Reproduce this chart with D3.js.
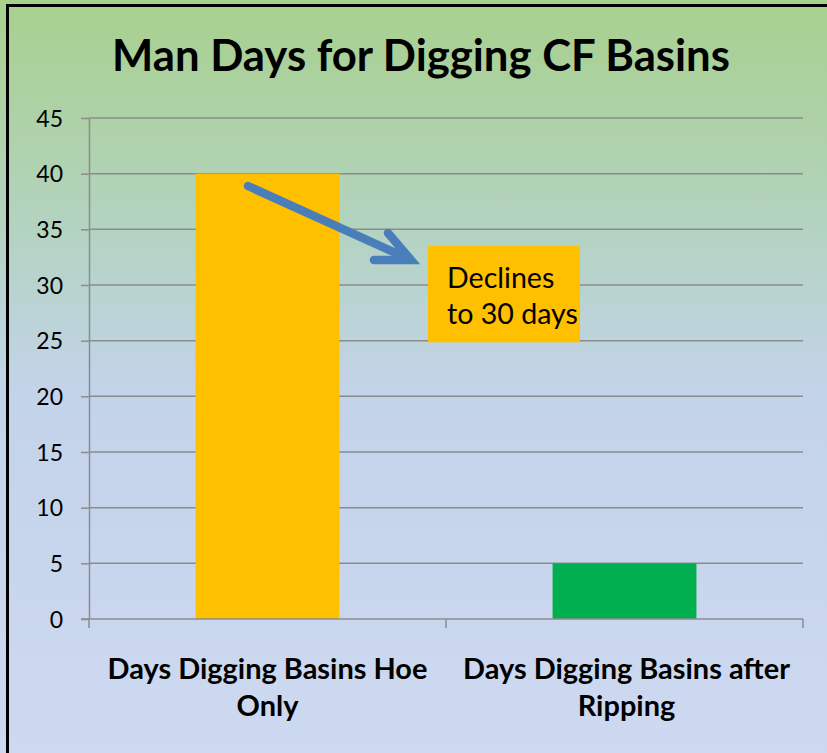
<!DOCTYPE html>
<html>
<head>
<meta charset="utf-8">
<script src="https://cdn.jsdelivr.net/npm/d3@7"></script>
<style>
  html, body { margin: 0; padding: 0; background: #fff; }
  svg { display: block; }
</style>
</head>
<body>
<div id="chart"></div>
<script>
// --------------- Data ---------------
const CATEGORIES = [
  ["Days Digging Basins Hoe", "Only"],
  ["Days Digging Basins after", "Ripping"]
];
const VALUES = [40, 5];
const BAR_COLORS = ["#FFC000", "#00B050"];
const Y_TICKS = [0, 5, 10, 15, 20, 25, 30, 35, 40, 45];
const TITLE = "Man Days for Digging CF Basins";
const NOTE_LINES = ["Declines", "to 30 days"];

// --------------- Constants ---------------
const WIDTH = 827;
const HEIGHT = 753;
const PLOT = { left: 89, right: 803, top: 118, bottom: 619 };
const FONT = "Lato, 'Open Sans', sans-serif";
const GRID = "#8c8c8c";

const svg = d3
  .select("#chart")
  .append("svg")
  .attr("width", WIDTH)
  .attr("height", HEIGHT);

// background gradient
const grad = svg
  .append("defs")
  .append("linearGradient")
  .attr("id", "bg")
  .attr("x1", 0)
  .attr("y1", 0)
  .attr("x2", 0)
  .attr("y2", 1);
[
  [0, "#a8d08d"],
  [0.3, "#b3d3c0"],
  [0.52, "#c3d3ea"],
  [1, "#cdd9f0"]
].forEach(([o, c]) => grad.append("stop").attr("offset", o).attr("stop-color", c));

svg.append("rect").attr("width", WIDTH).attr("height", HEIGHT).attr("fill", "url(#bg)");

// outer frame (cropped on right and bottom)
svg
  .append("rect")
  .attr("x", 7.5)
  .attr("y", 5.5)
  .attr("width", WIDTH + 20)
  .attr("height", HEIGHT + 20)
  .attr("fill", "none")
  .attr("stroke", "#000")
  .attr("stroke-width", 3);

// --------------- Scales ---------------
const y = d3.scaleLinear().domain([0, 45]).range([PLOT.bottom, PLOT.top]);
const x = d3
  .scaleBand()
  .domain(d3.range(CATEGORIES.length))
  .range([PLOT.left, PLOT.right])
  .paddingInner(0.597)
  .paddingOuter(0.2985);
const step = x.step();

// helper: fit text to a given width by changing font size
const fitText = (sel, target) => {
  const w = sel.node().getComputedTextLength();
  const fs = parseFloat(sel.attr("font-size"));
  sel.attr("font-size", (fs * target) / w);
  return (fs * target) / w;
};

// --------------- Gridlines ---------------
svg
  .append("g")
  .selectAll("line")
  .data(Y_TICKS.filter((d) => d > 0))
  .join("line")
  .attr("x1", PLOT.left)
  .attr("x2", PLOT.right)
  .attr("y1", (d) => y(d))
  .attr("y2", (d) => y(d))
  .attr("stroke", GRID)
  .attr("stroke-width", 1.5);

// --------------- Bars ---------------
svg
  .append("g")
  .selectAll("rect")
  .data(VALUES)
  .join("rect")
  .attr("x", (d, i) => x(i))
  .attr("y", (d) => y(d))
  .attr("width", x.bandwidth())
  .attr("height", (d) => y(0) - y(d))
  .attr("fill", (d, i) => BAR_COLORS[i]);

// --------------- Y axis ---------------
const yAxis = svg
  .append("g")
  .attr("transform", `translate(${PLOT.left},0)`)
  .call(d3.axisLeft(y).tickValues(Y_TICKS).tickSize(8).tickPadding(18).tickSizeOuter(0));
yAxis.select(".domain").attr("stroke", GRID).attr("stroke-width", 1.5);
yAxis.selectAll(".tick line").attr("stroke", GRID).attr("stroke-width", 1.5);
yAxis
  .selectAll(".tick text")
  .style("font-family", FONT)
  .style("font-size", "23px")
  .attr("fill", "#000")
  .attr("dy", "0.36em");

// --------------- X axis ---------------
const xAxis = svg.append("g");
xAxis
  .append("line")
  .attr("x1", PLOT.left - 8)
  .attr("x2", PLOT.right)
  .attr("y1", y(0))
  .attr("y2", y(0))
  .attr("stroke", GRID)
  .attr("stroke-width", 1.5);
xAxis
  .selectAll(".xt")
  .data(d3.range(CATEGORIES.length + 1))
  .join("line")
  .attr("class", "xt")
  .attr("x1", (i) => PLOT.left + i * step)
  .attr("x2", (i) => PLOT.left + i * step)
  .attr("y1", y(0))
  .attr("y2", y(0) + 9)
  .attr("stroke", GRID)
  .attr("stroke-width", 1.5);

let labelSize = null;
CATEGORIES.forEach((lines, i) => {
  const cx = x(i) + x.bandwidth() / 2 + (i === 1 ? 2 : 0);
  lines.forEach((ln, j) => {
    const t = xAxis
      .append("text")
      .attr("x", cx)
      .attr("y", 679 + j * 37)
      .attr("text-anchor", "middle")
      .attr("font-family", FONT)
      .attr("font-weight", "bold")
      .attr("font-size", labelSize || 25)
      .attr("fill", "#000")
      .text(ln);
    if (i === 0 && j === 0) labelSize = fitText(t, 320);
  });
});

// --------------- Title ---------------
const title = svg
  .append("text")
  .attr("x", 421)
  .attr("y", 71)
  .attr("text-anchor", "middle")
  .attr("font-family", FONT)
  .attr("font-weight", "bold")
  .attr("font-size", 42)
  .attr("fill", "#000")
  .text(TITLE);
fitText(title, 618);

// --------------- Annotation ---------------
const ARROW = "#4A7EBB";
const tip = [411, 260];
const arrow = svg
  .append("g")
  .attr("stroke", ARROW)
  .attr("stroke-width", 8.5)
  .attr("stroke-linecap", "round")
  .attr("fill", "none");
arrow.append("line").attr("x1", 248).attr("y1", 186).attr("x2", tip[0] - 2).attr("y2", tip[1] - 1);
arrow
  .append("path")
  .attr("stroke-linejoin", "miter")
  .attr("d", `M388,233 L${tip[0]},${tip[1]} L374,260`);

const boxTop = y(33.5);
const boxBottom = y(24.85);
svg
  .append("rect")
  .attr("x", 428)
  .attr("y", boxTop)
  .attr("width", 152)
  .attr("height", boxBottom - boxTop)
  .attr("fill", "#FFC000");

const noteTexts = NOTE_LINES.map((ln, j) =>
  svg
    .append("text")
    .attr("x", 447)
    .attr("y", 288 + j * 36)
    .attr("font-family", FONT)
    .attr("font-size", 28)
    .attr("fill", "#000")
    .text(ln)
);
const noteSize = fitText(noteTexts[1], 131);
noteTexts[0].attr("font-size", noteSize);
</script>
</body>
</html>
